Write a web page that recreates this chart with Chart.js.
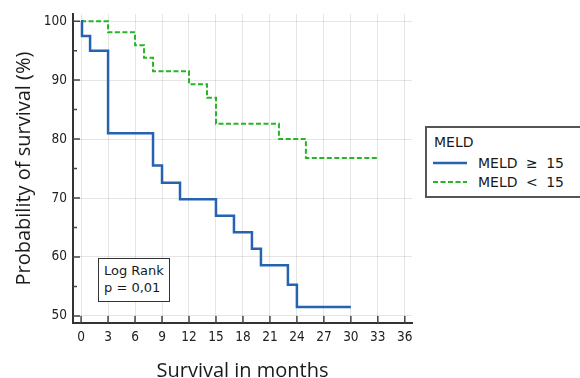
<!DOCTYPE html>
<html>
<head>
<meta charset="utf-8">
<script src="https://cdn.jsdelivr.net/npm/chart.js@4.4.0/dist/chart.umd.min.js"></script>
<style>
  body { margin: 0; background: #fff; }
  #wrap { position: relative; width: 580px; height: 378px; overflow: hidden; }
  #chart { position: absolute; left: 0; top: 0; }
  .box {
    position: absolute;
    box-sizing: border-box;
    background: #fff;
    font-family: 'DejaVu Sans', sans-serif;
    color: #1a1a1a;
  }
  .row { position: absolute; white-space: nowrap; line-height: 18px; height: 18px; }
  #legend { left: 425px; top: 126px; width: 157px; height: 72px; border: 2px solid #555; font-size: 14px; }
  #legend svg { position: absolute; left: 6px; top: 0; }
  #legend .txt { position: absolute; left: 51px; top: 0; word-spacing: 4px; }
  #logrank { left: 98px; top: 258px; width: 72px; height: 44px; border: 1.5px solid #333; font-size: 13px; }
</style>
</head>
<body>
<div id="wrap">
  <canvas id="chart" width="580" height="378"></canvas>
  <div id="legend" class="box"></div>
  <div id="logrank" class="box">
    <div class="row" style="left:5px; top:3px;">Log Rank</div>
    <div class="row" style="left:5px; top:20px;">p = 0,01</div>
  </div>
</div>
<script>
// Kaplan-Meier steps (month of event, survival % after it)
const monthsHigh = [0, 0.1, 1, 3, 8, 9, 11, 15, 17, 19, 20, 23, 24, 30];
const survivalHigh = [100, 97.5, 95, 81, 75.5, 72.6, 69.8, 67, 64.2, 61.4, 58.6, 55.3, 51.5, 51.5];
const monthsLow = [0, 3, 6, 7, 8, 12, 14, 15, 22, 25, 33];
const survivalLow = [100, 98.1, 95.9, 93.8, 91.5, 89.3, 87, 82.6, 80, 76.8, 76.8];

const seriesLabels = ["MELD ≥ 15", "MELD < 15"];
const seriesColors = ["#2562b0", "#25b525"];
const legendTitle = "MELD";

const xTickValues = [0, 3, 6, 9, 12, 15, 18, 21, 24, 27, 30, 33, 36];
const yMajorTicks = [50, 60, 70, 80, 90, 100];
const yMinorTicks = [55, 65, 75, 85, 95];

const gridColor = "rgba(0,0,0,0.1)";
const tickFont = { family: "'DejaVu Sans Condensed', 'DejaVu Sans', sans-serif", size: 13.5 };
const titleFont = { family: "'Open Sans', sans-serif", size: 20 };

function toPoints(xs, ys) {
  return xs.map((x, i) => ({ x: x, y: ys[i] }));
}

// small tick marks drawn inside the plot, like the original
const innerTicks = {
  id: "innerTicks",
  afterDraw(chart) {
    const { ctx, chartArea, scales } = chart;
    ctx.save();
    ctx.strokeStyle = "#444";
    ctx.lineWidth = 1.5;
    ctx.beginPath();
    xTickValues.forEach((v) => {
      const px = scales.x.getPixelForValue(v);
      ctx.moveTo(px, chartArea.bottom);
      ctx.lineTo(px, chartArea.bottom - 7);
    });
    scales.y.ticks.forEach((t) => {
      const py = scales.y.getPixelForValue(t.value);
      const len = yMajorTicks.includes(t.value) ? 7 : 4;
      ctx.moveTo(chartArea.left, py);
      ctx.lineTo(chartArea.left + len, py);
    });
    ctx.stroke();
    ctx.restore();
  },
};

const ctx = document.getElementById("chart").getContext("2d");
const chart = new Chart(ctx, {
  type: "line",
  data: {
    datasets: [
      {
        label: seriesLabels[0],
        data: toPoints(monthsHigh, survivalHigh),
        borderColor: seriesColors[0],
        borderWidth: 2.5,
        stepped: true,
        pointRadius: 0,
        fill: false,
      },
      {
        label: seriesLabels[1],
        data: toPoints(monthsLow, survivalLow),
        borderColor: seriesColors[1],
        borderWidth: 2,
        borderDash: [5, 2.5],
        stepped: true,
        pointRadius: 0,
        fill: false,
      },
    ],
  },
  options: {
    responsive: false,
    animation: false,
    layout: { padding: { top: 12, right: 168, left: 0, bottom: 0 } },
    plugins: {
      legend: { display: false },
      tooltip: { enabled: false },
    },
    scales: {
      x: {
        type: "linear",
        min: -0.9,
        max: 36.8,
        afterBuildTicks: (scale) => {
          scale.ticks = xTickValues.map((v) => ({ value: v }));
        },
        afterFit: (scale) => {
          scale.height = 55;
        },
        ticks: { autoSkip: false, maxRotation: 0, padding: 6, color: "#222", font: tickFont },
        grid: { color: gridColor, lineWidth: 1, drawTicks: false },
        border: { color: "#333", width: 2 },
        title: {
          display: true,
          text: "Survival in months",
          color: "#1a1a1a",
          font: Object.assign({ lineHeight: 0.66 }, titleFont),
          padding: { top: 0, bottom: 0 },
        },
      },
      y: {
        min: 48.8,
        max: 101.2,
        afterBuildTicks: (scale) => {
          scale.ticks = yMajorTicks.concat(yMinorTicks).sort((a, b) => a - b).map((v) => ({ value: v }));
        },
        afterFit: (scale) => {
          scale.width = 73;
        },
        ticks: {
          autoSkip: false,
          padding: 6,
          color: "#222",
          font: tickFont,
          callback: (v) => (yMajorTicks.includes(v) ? v : ""),
        },
        grid: {
          drawTicks: false,
          lineWidth: 1,
          color: (c) => (c.tick && yMajorTicks.includes(c.tick.value) ? gridColor : "transparent"),
        },
        border: { color: "#333", width: 2 },
        title: {
          display: true,
          text: "Probability of survival (%)",
          color: "#1a1a1a",
          font: titleFont,
          padding: { top: 12, bottom: 0 },
        },
      },
    },
  },
  plugins: [innerTicks],
});

// legend box built from the datasets
const legend = document.getElementById("legend");
const title = document.createElement("div");
title.className = "row";
title.style.left = "7px";
title.style.top = "5px";
title.textContent = legendTitle;
legend.appendChild(title);

chart.data.datasets.forEach((ds, i) => {
  const row = document.createElement("div");
  row.className = "row";
  row.style.left = "0";
  row.style.top = 26 + i * 19 + "px";
  row.style.width = "100%";
  const dash = ds.borderDash ? 'stroke-dasharray="' + ds.borderDash.join(",") + '"' : "";
  row.innerHTML =
    '<svg width="34" height="18"><line x1="0" y1="9" x2="34" y2="9" stroke="' +
    ds.borderColor + '" stroke-width="' + ds.borderWidth + '" ' + dash + "/></svg>";
  const txt = document.createElement("span");
  txt.className = "txt";
  txt.textContent = ds.label;
  row.appendChild(txt);
  legend.appendChild(row);
});
</script>
</body>
</html>
